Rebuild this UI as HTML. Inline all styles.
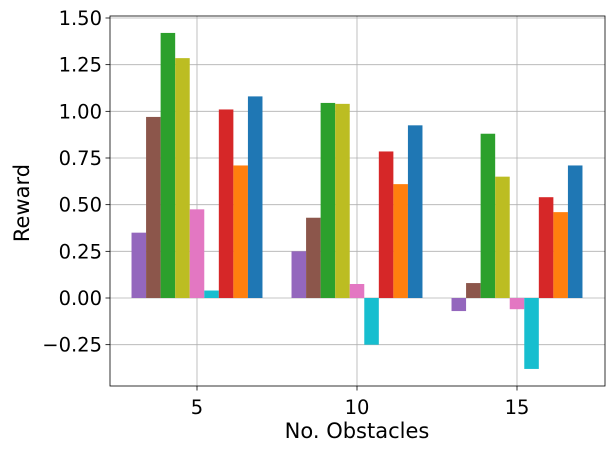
<!DOCTYPE html>
<html><head><meta charset="utf-8"><style>body{margin:0;background:#fff}svg{display:block;font-family:"DejaVu Sans","Liberation Sans",sans-serif}</style></head>
<body>
<svg id="chart" width="615" height="451">
<g id="grid"></g><g id="bars"></g><g id="axes"></g>
</svg>
<script>
const categories = [5, 10, 15];
const seriesColors = ['#9467bd','#8c564b','#2ca02c','#bcbd22','#e377c2','#17becf','#d62728','#ff7f0e','#1f77b4'];
const seriesPurple = [0.35, 0.25, -0.07];
const seriesBrown = [0.97, 0.43, 0.08];
const seriesGreen = [1.42, 1.045, 0.88];
const seriesOlive = [1.285, 1.04, 0.65];
const seriesPink = [0.475, 0.075, -0.06];
const seriesCyan = [0.04, -0.25, -0.38];
const seriesRed = [1.01, 0.785, 0.54];
const seriesOrange = [0.71, 0.61, 0.46];
const seriesBlue = [1.08, 0.925, 0.71];
const yTicks = [-0.25, 0, 0.25, 0.5, 0.75, 1.0, 1.25, 1.5];
const yTickLabels = ['\u22120.25','0.00','0.25','0.50','0.75','1.00','1.25','1.50'];
const xTickLabels = ['5','10','15'];
const allSeries = [seriesPurple,seriesBrown,seriesGreen,seriesOlive,seriesPink,seriesCyan,seriesRed,seriesOrange,seriesBlue];
const seriesNames = ['purple','brown','green','olive','pink','cyan','red','orange','blue'];

const L=110,R=605,T=16,B=386;
const xs = v => 197 + (v-5)*32;
const ys = v => 298 - v*186.67;
const NS='http://www.w3.org/2000/svg';
function mk(tag, attrs, parent){const e=document.createElementNS(NS,tag);for(const k in attrs)e.setAttribute(k,attrs[k]);parent.appendChild(e);return e;}
const grid=document.getElementById('grid'),bars=document.getElementById('bars'),axes=document.getElementById('axes');
const bw=14.55;
yTicks.forEach((t,i)=>{
  const y=ys(t);
  const g=mk('line',{x1:L,x2:R,y1:y,y2:y,stroke:'#b0b0b0','stroke-width':0.8},grid);
  
  
  mk('line',{x1:L-4.5,x2:L,y1:y,y2:y,stroke:'#000','stroke-width':0.8},axes);
  const tx=mk('text',{x:L-8,y:y+7,'text-anchor':'end','font-size':19.5},axes);
  tx.textContent=yTickLabels[i];
  
  
});
categories.forEach((c,i)=>{
  const x=xs(c);
  const g=mk('line',{x1:x,x2:x,y1:T,y2:B,stroke:'#b0b0b0','stroke-width':0.8},grid);
  
  
  mk('line',{x1:x,x2:x,y1:B,y2:B+4.5,stroke:'#000','stroke-width':0.8},axes);
  const tx=mk('text',{x:x,y:B+28,'text-anchor':'middle','font-size':19.5},axes);
  tx.textContent=xTickLabels[i];
  
  
  allSeries.forEach((s,j)=>{
    const v=s[i];
    const cx=x+(j-4)*bw;
    const y0=ys(0),y1=ys(v);
    const r=mk('rect',{x:cx-bw/2,y:Math.min(y0,y1),width:bw,height:Math.abs(y1-y0),fill:seriesColors[j]},bars);
    
    
  });
});
const frame=mk('rect',{x:L,y:T,width:R-L,height:B-T,fill:'none',stroke:'#000','stroke-width':0.8},axes);


const xt=mk('text',{x:357,y:438,'text-anchor':'middle','font-size':21},axes);
xt.textContent='No. Obstacles';


const yt=mk('text',{x:0,y:0,'text-anchor':'middle','font-size':21,transform:'translate(29,203) rotate(-90)'},axes);
yt.textContent='Reward';


</script>
</body></html>
